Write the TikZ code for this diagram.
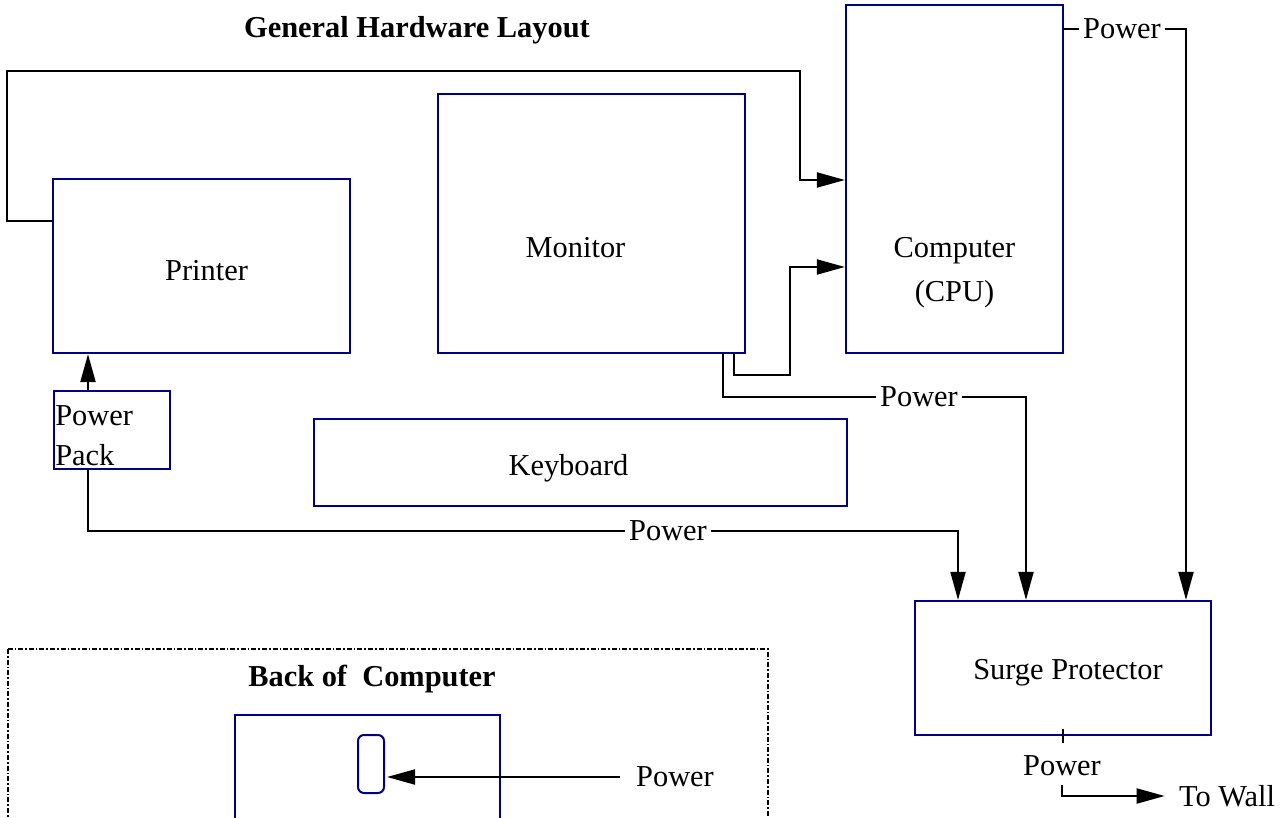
\documentclass[tikz,border=0pt]{standalone}
\usepackage{fontspec}
\setmainfont{Liberation Serif}
\usetikzlibrary{arrows.meta}
\definecolor{navy}{RGB}{0,0,128}

\tikzset{
  unit/.style={rectangle, draw=navy, line width=1.1pt},
  wire/.style={line width=1pt},
  feed/.style={wire, -{Triangle[length=14pt,width=7.5pt]}},
  tag/.style={inner sep=2pt},
  heading/.style={font=\fontsize{15.2}{18}\selectfont\bfseries}
}

\begin{document}
\begin{tikzpicture}[x=0.5pt,y=-0.5pt,font=\fontsize{15.2}{18}\selectfont]
      \clip (0,0) rectangle (1285,818);
      \node at (417,30) [heading] (title) {General Hardware Layout};

      % boxes
      \node at (954.5,179) [unit, minimum width=108.5pt, minimum height=174pt,
        label={[align=center, yshift=-47pt]center:Computer\\[4pt](CPU)}] (cpu) {};
      \node at (591.5,223.5) [unit, minimum width=153.5pt, minimum height=129.5pt,
        label={[xshift=-8pt, yshift=-12pt]center:Monitor}] (monitor) {};
      \node at (201.5,266) [unit, minimum width=148.5pt, minimum height=87pt,
        label={[xshift=2.5pt, yshift=-2.5pt]center:Printer}] (printer) {};
      \node at (112,430) [unit, minimum width=58pt, minimum height=39pt,
        label={[align=left, anchor=west, inner sep=1pt, yshift=-3pt]west:Power\\[2pt]Pack}] (pack) {};
      \node at (580.5,462.5) [unit, minimum width=266.5pt, minimum height=43.5pt,
        label={[xshift=-6pt, yshift=-3pt]center:Keyboard}] (keyboard) {};
      \node at (1063,668) [unit, minimum width=148pt, minimum height=67pt,
        label={[xshift=2.5pt, yshift=-2.5pt]center:Surge Protector}] (surge) {};

      % power labels
      \node at (1122,29) [tag] (pwcpu) {Power};
      \node at (919,397) [tag] (pwmon) {Power};
      \node at (668,531) [tag] (pwpr) {Power};
      \node at (1062,766) [tag] (pwsurge) {Power};
      \node at (1227,796) [tag] (wall) {To Wall};

      % data cables
      \draw[feed] ([yshift=-21.5pt]printer.north west) -- ++(-45,0) |- (800,71)
                  |- (cpu.west |- 0,180);
      \draw[feed] ([xshift=-6pt]monitor.south east) -- ++(0,21) -| (790,267)
                  -- (cpu.west |- 0,267);

      % power cables
      \draw[feed] (88,0 |- pack.north) -- (88,0 |- printer.south);
      \draw[wire] (88,0 |- pack.south) |- (pwpr.west);
      \draw[feed] (pwpr.east) -| (958,0 |- surge.north);
      \draw[wire] ([xshift=-11.5pt]monitor.south east) |- (pwmon.west);
      \draw[feed] (pwmon.east) -| (1026,0 |- surge.north);
      \draw[wire] (cpu.east |- pwcpu.west) -- (pwcpu.west);
      \draw[feed] (pwcpu.east) -| (1186,0 |- surge.north);
      \draw[wire] ([yshift=3.5pt]surge.south) -- ([yshift=-3.5pt]surge.south);
      \draw[feed, shorten >=5pt] ([yshift=-2pt]pwsurge.south) |- (wall.west);

      % back of computer
      \draw[line width=0.7pt, dash pattern=on 2.5pt off 1pt on 0.8pt off 1pt]
        (8,649) rectangle (768,840);
      \node at (372,679) [heading] (backtitle) {Back of\ \ Computer};
      \node at (367.5,790) [unit, minimum width=132.5pt, minimum height=75pt] (panel) {};
      \node at (371,764) [unit, line width=1pt, rounded corners=3pt, inner sep=0pt,
        minimum width=13pt, minimum height=29pt] (socket) {};
      \node at (675,777) [tag] (pwback) {Power};
      \draw[feed, shorten >=1pt] ([xshift=-6pt]pwback.west) -- (socket.east |- pwback.west);
\end{tikzpicture}
\end{document}
